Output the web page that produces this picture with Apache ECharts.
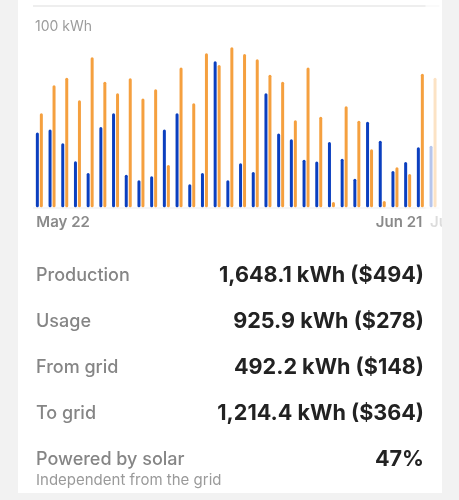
<!DOCTYPE html>
<html>
<head>
<meta charset="utf-8">
<script src="https://cdn.jsdelivr.net/npm/echarts@6/dist/echarts.min.js"></script>
<style>
  html, body { margin: 0; padding: 0; background: #f2f2f2; width: 459px; height: 500px; overflow: hidden; }
  #card { position: absolute; left: 18px; top: 0; width: 424px; height: 493px; background: #ffffff; overflow: hidden; }
  #chart { width: 424px; height: 493px; }
</style>
</head>
<body>
<div id="card"><div id="chart"></div></div>
<script>
// ---- data ----
const days = ['May 22','May 23','May 24','May 25','May 26','May 27','May 28','May 29','May 30','May 31',
  'Jun 1','Jun 2','Jun 3','Jun 4','Jun 5','Jun 6','Jun 7','Jun 8','Jun 9','Jun 10',
  'Jun 11','Jun 12','Jun 13','Jun 14','Jun 15','Jun 16','Jun 17','Jun 18','Jun 19','Jun 20',
  'Jun 21','Jun 22'];
const usage = [37.1, 38.7, 31.8, 22.9, 17.0, 39.9, 46.7, 16.2, 13.4, 15.4,
  38.7, 46.7, 11.4, 17.0, 72.5, 13.4, 21.9, 17.5, 56.6, 36.6,
  33.8, 23.6, 22.7, 32.4, 24.1, 14.2, 42.5, 33.1, 18.0, 22.5,
  29.8, 30.6];
const production = [46.7, 60.6, 64.4, 53.2, 74.5, 62.4, 56.6, 64.1, 54.0, 58.6,
  21.0, 69.4, 51.7, 76.5, 70.7, 79.5, 76.2, 73.5, 65.9, 62.4,
  43.2, 69.5, 45.0, 2.6, 50.2, 43.0, 28.8, 3.1, 19.9, 16.5,
  66.4, 64.4];
const yMax = 100;
const yUnit = 'kWh';
const firstLabelIndex = 0;
const lastLabelIndex = 30;
const nextLabelIndex = 31;
const statLabels = ['Production', 'Usage', 'From grid', 'To grid', 'Powered by solar'];
const statValues = ['1,648.1 kWh ($494)', '925.9 kWh ($278)', '492.2 kWh ($148)', '1,214.4 kWh ($364)', '47%'];
const subLabel = 'Independent from the grid';

// ---- chart ----
const FONT = 'Inter, "Noto Sans", sans-serif';
const BLUE = '#0b3fbf';
const ORANGE = '#f5a03f';
const chart = echarts.init(document.getElementById('chart'), null, { renderer: 'canvas' });

function axisFor(index, align, pad) {
  return {
    type: 'category',
    data: days,
    gridIndex: 0,
    position: 'bottom',
    boundaryGap: true,
    axisLine: { show: false },
    axisTick: { show: false },
    splitLine: { show: false },
    axisLabel: {
      interval: (i) => i === index,
      align: align,
      margin: 8,
      padding: pad,
      color: '#8a8a8a',
      fontFamily: FONT,
      fontWeight: 600,
      fontSize: 15,
      hideOverlap: false
    }
  };
}

const rowY = [278, 324, 370, 416, 462];
const graphics = [];
statLabels.forEach((t, i) => {
  graphics.push({ type: 'text', left: 18, top: rowY[i] - 11, style: { text: t, fill: '#858585', font: '500 18px ' + FONT } });
  graphics.push({ type: 'text', right: 18, top: rowY[i] - 14, style: { text: statValues[i], fill: '#222222', font: '700 21.6px ' + FONT } });
});
graphics.push({ type: 'text', left: 18, top: 473, style: { text: subLabel, fill: '#9a9a9a', font: '400 15px ' + FONT } });
// wash over the next (partially visible) page
graphics.push({ type: 'rect', shape: { x: 407.5, y: 0, width: 20, height: 240 }, style: { fill: 'rgba(255,255,255,0.7)' }, z: 100 });

chart.setOption({
  animation: false,
  backgroundColor: '#ffffff',
  grid: { left: 15, top: 6, width: 406.4, height: 201.3, containLabel: false, outerBoundsMode: 'none' },
  xAxis: [
    axisFor(firstLabelIndex, 'left', [0, 0, 0, -3]),
    axisFor(lastLabelIndex, 'right', [0, -2, 0, 0]),
    axisFor(nextLabelIndex, 'left', [0, 0, 0, -3])
  ],
  yAxis: {
    type: 'value',
    min: 0,
    max: yMax,
    interval: yMax,
    axisLine: { show: false },
    axisTick: { show: false },
    splitLine: { show: true, lineStyle: { color: ['#f3f3f3', '#e8e8e8'], width: 1.5 } },
    axisLabel: {
      inside: true,
      margin: 2,
      verticalAlign: 'top',
      padding: [14, 0, 0, 0],
      color: '#9c9c9c',
      fontFamily: FONT,
      fontSize: 14,
      formatter: (v) => (v === yMax ? v + ' ' + yUnit : '')
    }
  },
  series: [
    {
      name: 'Usage', type: 'bar', xAxisIndex: 0, data: usage,
      barWidth: 3, barGap: '33%',
      itemStyle: { color: BLUE, borderRadius: 1.5 }
    },
    {
      name: 'Production', type: 'bar', xAxisIndex: 0, data: production,
      barWidth: 3, barGap: '33%',
      itemStyle: { color: ORANGE, borderRadius: 1.5 }
    }
  ],
  graphic: graphics
});
</script>
</body>
</html>
